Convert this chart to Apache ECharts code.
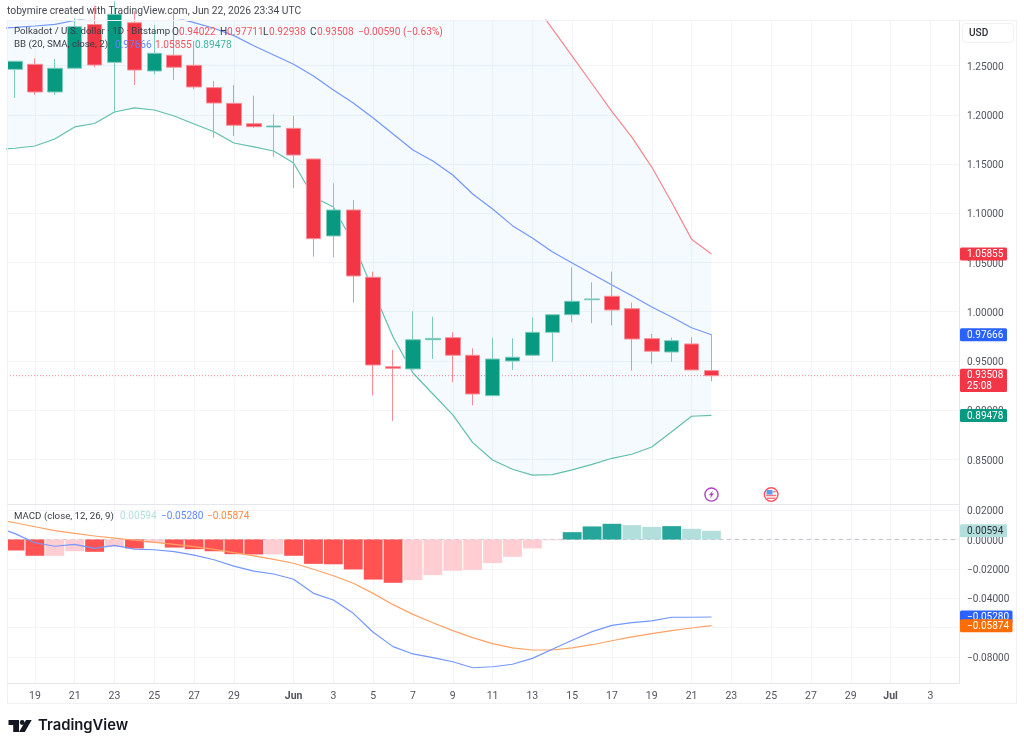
<!DOCTYPE html>
<html>
<head>
<meta charset="utf-8">
<title>Polkadot / U.S. dollar</title>
<script src="https://cdn.jsdelivr.net/npm/echarts@6/dist/echarts.min.js"></script>
<style>
html,body{margin:0;padding:0;background:#fff}
#chart{width:1024px;height:749px}
</style>
</head>
<body>
<div id="chart"></div>
<script>
// Daily bars, May 18 to Jun 22; indicator series also carry May 17 so they run in from the left edge.
const dates = ['May 17','May 18','May 19','May 20','May 21','May 22','May 23','May 24','May 25','May 26','May 27','May 28','May 29','May 30','May 31',
  'Jun 1','Jun 2','Jun 3','Jun 4','Jun 5','Jun 6','Jun 7','Jun 8','Jun 9','Jun 10','Jun 11','Jun 12','Jun 13','Jun 14','Jun 15','Jun 16','Jun 17','Jun 18','Jun 19','Jun 20','Jun 21','Jun 22'];

const opens  = [1.2461,1.2512,1.2231,1.2472,1.2916,1.2532,1.2934,1.2444,1.2604,1.2502,1.2275,1.2116,1.1909,1.1876,1.1862,1.1551,1.0769,1.1033,1.0350,0.9442,0.9419,0.9716,0.9737,0.9558,0.9148,0.9500,0.9558,0.9791,0.9970,1.0122,1.0157,1.0031,0.9727,0.9591,0.9673,0.94022];
const closes = [1.2543,1.2231,1.2472,1.2894,1.2505,1.3020,1.2454,1.2624,1.2482,1.2282,1.2119,1.1893,1.1879,1.1886,1.1591,1.0742,1.1033,1.0363,0.9459,0.9426,0.9716,0.9729,0.9558,0.9165,0.9520,0.9538,0.9791,0.9970,1.0106,1.0130,1.0018,0.9723,0.9599,0.9706,0.9409,0.93508];
const lows   = [1.2170,1.2201,1.2201,1.2472,1.2480,1.2018,1.2302,1.2411,1.2353,1.2258,1.1767,1.1784,1.1866,1.1574,1.1256,1.0559,1.0553,1.0092,0.9152,0.8891,0.9409,0.9520,0.9284,0.9050,0.9148,0.9409,0.9558,0.9493,0.9893,0.9883,0.9862,0.9402,0.9473,0.9493,0.9409,0.92938];
const highs  = [1.2546,1.2573,1.2566,1.2980,1.3100,1.3150,1.3050,1.2911,1.3050,1.2749,1.2343,1.2302,1.2193,1.2005,1.1990,1.1551,1.1304,1.1135,1.0407,0.9612,1.0005,0.9950,0.9791,0.9629,0.9737,0.9731,0.9940,0.9970,1.0451,1.0299,1.0407,1.0092,0.9774,0.9737,0.9741,0.97711];

const bbBasis = [1.2876,1.2888,1.2901,1.2918,1.2957,1.2992,1.3023,1.3033,1.3023,1.2987,1.2935,1.2878,1.2803,1.2701,1.2607,1.2512,1.2393,1.2251,1.2119,1.1967,1.1805,1.1642,1.1530,1.1388,1.1195,1.1043,1.0874,1.0749,1.0610,1.0495,1.0383,1.0272,1.0163,1.0048,0.9947,0.9838,0.97666];
const bbUpper = [1.4106,1.4116,1.4119,1.4082,1.4038,1.4073,1.4018,1.3997,1.3998,1.3987,1.3964,1.3928,1.3893,1.3729,1.3582,1.3514,1.3621,1.3439,1.3540,1.3723,1.3866,1.3906,1.3895,1.3824,1.3719,1.3591,1.3347,1.3157,1.2874,1.2596,1.2315,1.2032,1.1773,1.1469,1.1112,1.0737,1.05855];
const bbLower = [1.1646,1.1660,1.1683,1.1754,1.1876,1.1911,1.2028,1.2069,1.2048,1.1987,1.1906,1.1828,1.1713,1.1673,1.1632,1.1510,1.1165,1.1063,1.0698,1.0211,0.9744,0.9378,0.9165,0.8952,0.8671,0.8495,0.8401,0.8341,0.8346,0.8394,0.8451,0.8512,0.8553,0.8627,0.8782,0.8939,0.89478];

const macdLine   = [0.0089,0.0040,-0.0022,-0.0046,-0.0033,-0.0060,-0.0040,-0.0065,-0.0070,-0.0083,-0.0106,-0.0138,-0.0181,-0.0215,-0.0235,-0.0271,-0.0367,-0.0412,-0.0503,-0.0632,-0.0730,-0.0780,-0.0805,-0.0833,-0.0874,-0.0867,-0.0850,-0.0810,-0.0748,-0.0687,-0.0628,-0.0585,-0.0567,-0.0555,-0.0530,-0.0530,-0.05280];
const signalLine = [0.0140,0.0114,0.0087,0.0060,0.0042,0.0024,0.0010,-0.0005,-0.0019,-0.0033,-0.0049,-0.0067,-0.0090,-0.0112,-0.0135,-0.0162,-0.0203,-0.0247,-0.0298,-0.0367,-0.0444,-0.0510,-0.0567,-0.0621,-0.0669,-0.0710,-0.0739,-0.0753,-0.0753,-0.0739,-0.0717,-0.0690,-0.0664,-0.0642,-0.0621,-0.0603,-0.05874];
const histogram  = [-0.0075,-0.0111,-0.0111,-0.0080,-0.0084,-0.0050,-0.0061,-0.0023,-0.0055,-0.0066,-0.0080,-0.0100,-0.0102,-0.0101,-0.0111,-0.0166,-0.0169,-0.0204,-0.0273,-0.0295,-0.0277,-0.0243,-0.0213,-0.0207,-0.0161,-0.0118,-0.0061,-0.0005,0.0050,0.0089,0.0107,0.0098,0.0086,0.0091,0.0073,0.00594];

// Bar positions on the day axis that carry a date label
const tickBars   = [1,3,5,7,9,11,14,16,18,20,22,24,26,28,30,32,34,36,38,40,42,44,46];
const tickLabels = ['19','21','23','25','27','29','Jun','3','5','7','9','11','13','15','17','19','21','23','25','27','29','Jul','3'];
const priceTicks = [0.85,0.90,0.95,1.00,1.05,1.10,1.15,1.20,1.25];
const macdGridTicks = [-0.08,-0.06,-0.04,-0.02,0,0.02];
const macdLabelTicks = [-0.08,-0.04,-0.02,0,0.02];

const lastPrice = 0.93508;
const priceTags = [
  {value:1.05855, lines:['1.05855'], kind:'red'},
  {value:0.97666, lines:['0.97666'], kind:'blue'},
  {value:0.93508, lines:['0.93508','25:08'], kind:'red'},
  {value:0.89478, lines:['0.89478'], kind:'teal'}
];
const macdTags = [
  {value:0.00594, lines:['0.00594'], kind:'paleTeal'},
  {value:-0.05280, lines:['−0.05280'], kind:'blue'},
  {value:-0.05874, lines:['−0.05874'], kind:'orange'}
];
const eventBars = [35, 38];

const FONT = 'Roboto, "Noto Sans", sans-serif';
const C = {
  red:'#f23645', redEdge:'#f78e97', green:'#089981', greenEdge:'#7fcbbd',
  blue:'#2962ff', teal:'#089981', orange:'#ff6d00', paleTeal:'#b2dfdb',
  grid:'#f2f4f8', axis:'#e4e6ec', label:'#50535e', ink:'#3a3d47'
};

const xOf = i => i - 1;                     // day axis: May 18 sits at 0
const xSpan = {min:-0.402, max:47.44};
const series2d = arr => arr.map((v,i) => [xOf(i), v]);
const candleRows = opens.map((o,i) => [i, o, closes[i], lows[i], highs[i]]);
const histColor = (v,i) => {
  const rising = i > 0 && v >= histogram[i-1];
  if (v >= 0) return rising ? '#26a69a' : C.paleTeal;
  return rising ? '#ffcdd2' : '#ff5252';
};
// Scale labels sit a touch below their gridline
const scaleRich = {v:{color:C.label, fontSize:10.1, fontFamily:FONT, padding:[3,0,0,0]}};

function tagSeries(name, tags, axisIndex, range){
  return {
    name, type:'custom', xAxisIndex:axisIndex, yAxisIndex:axisIndex, clip:false, z:20, silent:true,
    encode:{x:0,y:1},
    data: tags.map(t => [range.max, t.value]),
    renderItem(params, api){
      const t = tags[params.dataIndex];
      const p = api.coord([api.value(0), api.value(1)]);
      const wide = t.lines[0].startsWith('−');
      const double = t.lines.length > 1;
      const top = p[1] - (double ? 7 : 6.5);
      const textFill = t.kind === 'paleTeal' ? '#2a2e39' : '#ffffff';
      const children = [{
        type:'rect',
        shape:{x:p[0]+1, y:top, width: wide ? 52.5 : 47, height: double ? 23.4 : 13, r:1.5},
        style:{fill:C[t.kind]}
      }];
      t.lines.forEach((line,k) => children.push({
        type:'text',
        style:{text:line, x:p[0]+8, y:top+7.2+k*10.8, fill:textFill, fontSize:10, fontFamily:FONT, verticalAlign:'middle', align:'left'}
      }));
      return {type:'group', children};
    }
  };
}

// Bollinger band fill as one polygon, upper edge forward and lower edge back
const bandFill = {
  name:'BB band', type:'custom', xAxisIndex:0, yAxisIndex:0, clip:true, z:1, silent:true,
  encode:{x:0,y:1},
  data: bbUpper.map((u,i) => [xOf(i), u, bbLower[i]]),
  renderItem(params, api){
    if (params.dataIndex !== 0) return null;
    const top = bbUpper.map((u,i) => api.coord([xOf(i), u]));
    const bottom = bbLower.map((l,i) => api.coord([xOf(i), l])).reverse();
    return {type:'polygon', shape:{points:top.concat(bottom)}, style:{fill:'rgba(33,150,243,0.05)'}};
  }
};

// Session markers under the price pane: bolt badge and US flag badge
const eventSeries = {
  name:'events', type:'custom', xAxisIndex:0, yAxisIndex:0, clip:false, z:15, silent:true,
  encode:{x:0,y:1},
  data: eventBars.map(b => [b, 0.8144]),
  renderItem(params, api){
    const p = api.coord([api.value(0), api.value(1)]);
    const [cx,cy] = p;
    if (params.dataIndex === 0) {
      return {type:'group', children:[
        {type:'circle', shape:{cx,cy,r:6.6}, style:{fill:'#fff', stroke:'#ab47bc', lineWidth:1.4}},
        {type:'polygon', shape:{points:[[cx+1.6,cy-4],[cx-2.6,cy+0.8],[cx-0.3,cy+0.8],[cx-1.6,cy+4],[cx+2.6,cy-1],[cx+0.3,cy-1]]}, style:{fill:'#ab47bc'}}
      ]};
    }
    return {type:'group', children:[
      {type:'circle', shape:{cx,cy,r:6.8}, style:{fill:'#fff', stroke:'#f7525f', lineWidth:1.4}},
      {type:'rect', shape:{x:cx-5,y:cy+0.2,width:10,height:1.5}, style:{fill:'#f7727c'}},
      {type:'rect', shape:{x:cx-4.2,y:cy+3,width:8.4,height:1.4}, style:{fill:'#f7727c'}},
      {type:'rect', shape:{x:cx-4.6,y:cy-4.6,width:6,height:4.6}, style:{fill:'#5b9cf0'}},
      {type:'rect', shape:{x:cx+1.6,y:cy-3.4,width:3,height:1.2}, style:{fill:'#f7727c'}}
    ]};
  }
};

const txt = (text,x,y,fill,extra) => ({
  type:'text', z:30, silent:true, x, y,
  style:Object.assign({text, fill, fontSize:10.1, fontFamily:FONT, verticalAlign:'middle'}, extra||{})
});
const rr = '#f7525f', bl = '#5f86ff', te = '#3fb5a0';
const small = {fontSize:9.7};

const option = {
  animation:false,
  backgroundColor:'#ffffff',
  grid:[
    {left:7, right:65, top:20, height:484},
    {left:7, right:65, top:504, height:179}
  ],
  xAxis:[0,1].map(i => ({
    type:'value', gridIndex:i, min:xSpan.min, max:xSpan.max,
    axisLine:{show:true, onZero:false, lineStyle:{color:C.axis}},
    axisTick:{show:false, customValues:tickBars},
    splitLine:{show:true, lineStyle:{color:C.grid, width:1}},
    axisLabel:{
      show:i===1, customValues:tickBars, margin:8, hideOverlap:false,
      color:C.label, fontSize:10.5, fontFamily:FONT,
      formatter:v => { const s = tickLabels[tickBars.indexOf(v)]; return (s==='Jun'||s==='Jul') ? '{b|'+s+'}' : s; },
      rich:{b:{fontWeight:700, color:C.label, fontSize:10.5, fontFamily:FONT}}
    }
  })),
  yAxis:[
    {
      type:'value', gridIndex:0, position:'right', min:0.8048, max:1.2962, scale:true,
      axisLine:{show:true, onZero:false, lineStyle:{color:C.axis}},
      axisTick:{show:false, customValues:priceTicks},
      splitLine:{show:true, lineStyle:{color:C.grid, width:1}},
      axisLabel:{customValues:priceTicks, margin:8, align:'left', rich:scaleRich,
        formatter:v => '{v|' + v.toFixed(5) + '}'}
    },
    {
      type:'value', gridIndex:1, position:'right', min:-0.09779, max:0.02419, scale:true,
      axisLine:{show:true, onZero:false, lineStyle:{color:C.axis}},
      axisTick:{show:false, customValues:macdGridTicks},
      splitLine:{show:true, lineStyle:{color:C.grid, width:1}},
      axisLabel:{customValues:macdLabelTicks, margin:8, align:'left', rich:scaleRich,
        formatter:v => '{v|' + (v < 0 ? '−' : '') + Math.abs(v).toFixed(5) + '}'}
    }
  ],
  series:[
    bandFill,
    {name:'BB basis', type:'line', xAxisIndex:0, yAxisIndex:0, symbol:'none', z:2, silent:true,
      lineStyle:{color:'#7397ff', width:1.2}, data:series2d(bbBasis)},
    {name:'BB upper', type:'line', xAxisIndex:0, yAxisIndex:0, symbol:'none', z:2, silent:true,
      lineStyle:{color:'#f6858e', width:1.2}, data:series2d(bbUpper)},
    {name:'BB lower', type:'line', xAxisIndex:0, yAxisIndex:0, symbol:'none', z:2, silent:true,
      lineStyle:{color:'#62bfae', width:1.2}, data:series2d(bbLower)},
    {name:'Last price', type:'line', xAxisIndex:0, yAxisIndex:0, symbol:'none', z:2, silent:true,
      lineStyle:{color:'rgba(242,54,69,0.6)', width:1, type:[1,2]},
      data:[[xSpan.min,lastPrice],[xSpan.max,lastPrice]]},
    {name:'DOTUSD', type:'candlestick', xAxisIndex:0, yAxisIndex:0, z:3, barWidth:15, silent:true,
      itemStyle:{color:C.green, color0:C.red, borderColor:C.greenEdge, borderColor0:C.redEdge, borderWidth:1},
      data:candleRows
    },
    {name:'Zero', type:'line', xAxisIndex:1, yAxisIndex:1, symbol:'none', z:1, silent:true,
      lineStyle:{color:'#c3c6ce', width:1, type:[4,4]},
      data:[[xSpan.min,0],[xSpan.max,0]]},
    {name:'Histogram', type:'bar', xAxisIndex:1, yAxisIndex:1, barWidth:18.8, z:2, silent:true,
      data:histogram.map((v,i) => ({value:[i,v], itemStyle:{color:histColor(v,i)}}))
    },
    {name:'Signal', type:'line', xAxisIndex:1, yAxisIndex:1, symbol:'none', z:4, silent:true,
      lineStyle:{color:'#ffa264', width:1.2}, data:series2d(signalLine)},
    {name:'MACD', type:'line', xAxisIndex:1, yAxisIndex:1, symbol:'none', z:4, silent:true,
      lineStyle:{color:'#7397ff', width:1.2}, data:series2d(macdLine)},
    tagSeries('priceTags', priceTags, 0, xSpan),
    tagSeries('macdTags', macdTags, 1, xSpan),
    eventSeries
  ],
  graphic:[
    // Left margin stays clean where the first histogram bar runs past the pane edge
    {type:'rect', z:10, silent:true, shape:{x:0,y:505,width:7,height:178}, style:{fill:'#fff'}},
    // Chart frame and price-scale box
    {type:'rect', z:11, silent:true, shape:{x:7.5,y:20.5,width:1009,height:683}, style:{fill:'none', stroke:'#f0f1f5', lineWidth:1}},
    {type:'rect', z:12, silent:true, shape:{x:962.5,y:23.5,width:51,height:19,r:3}, style:{fill:'#fff', stroke:'#f0f1f5', lineWidth:1}},
    txt('USD',969,33,'#2a2e39',{fontWeight:500}),

    txt('tobymire created with TradingView.com, Jun 22, 2026 23:34 UTC',7,11.5,'#454852',{fontSize:10.3}),

    txt('Polkadot / U.S. dollar · 1D · Bitstamp',14,32,C.ink,small),
    txt('O',172,32,C.ink), txt('0.94022',179,32,rr),
    txt('H',220,32,C.ink), txt('0.97711',227,32,rr),
    txt('L',263,32,C.ink), txt('0.92938',269,32,rr),
    txt('C',310,32,C.ink), txt('0.93508',317,32,rr),
    txt('−0.00590 (−0.63%)',358,32,rr),

    txt('BB (20, SMA, close, 2)',14,45,C.ink,small),
    txt('0.97666',115,45,bl), txt('1.05855',155,45,rr), txt('0.89478',195,45,te),

    txt('MACD (close, 12, 26, 9)',14,516.5,C.ink,small),
    txt('0.00594',120,516.5,C.paleTeal), txt('−0.05280',161,516.5,bl), txt('−0.05874',207,516.5,'#ff8a3d'),

    // TradingView wordmark
    {type:'group', z:30, silent:true, children:[
      {type:'polygon', shape:{points:[[8.5,720],[19,720],[19,732],[13.2,732],[13.2,725],[8.5,725]]}, style:{fill:'#131722'}},
      {type:'circle', shape:{cx:22.2,cy:722.5,r:2.4}, style:{fill:'#131722'}},
      {type:'polygon', shape:{points:[[26,720],[31.7,720],[24.8,732],[19,732]]}, style:{fill:'#131722'}}
    ]},
    txt('TradingView',38,726,'#131722',{fontFamily:'Inter, Roboto, sans-serif', fontSize:14.8, fontWeight:600})
  ]
};

const chart = echarts.init(document.getElementById('chart'), null, {renderer:'canvas'});
chart.setOption(option);
</script>
</body>
</html>
